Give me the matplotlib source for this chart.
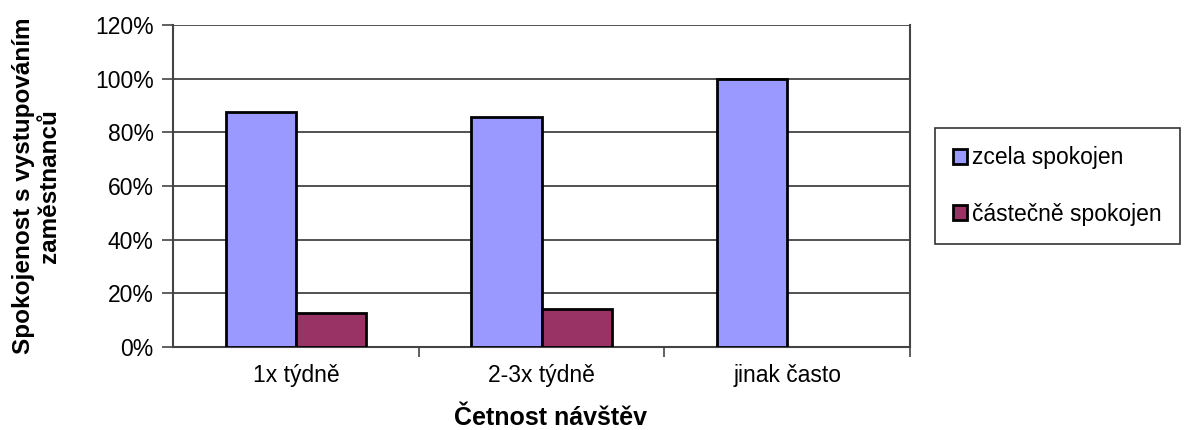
import numpy as np
import matplotlib.pyplot as plt
from matplotlib.ticker import FuncFormatter

plt.rcParams['font.family'] = ['Liberation Sans', 'DejaVu Sans']

kategorie = ['1x týdně', '2-3x týdně', 'jinak často']
zcela = [87.5, 85.7, 100.0]
castecne = [12.5, 14.3, 0.0]
serie = ['zcela spokojen', 'částečně spokojen']

fig = plt.figure(figsize=(11.84, 4.30), dpi=100)
ax = fig.add_axes([0.1461, 0.193, 0.6225, 0.7488])

x = np.arange(len(kategorie))
w = 0.285
ax.bar(x - w/2, zcela, w, color='#9999FF', edgecolor='black', linewidth=2, label=serie[0], zorder=3)
lw2 = [2 if v > 0 else 0 for v in castecne]
ax.bar(x + w/2, castecne, w, color='#993366', edgecolor='black', linewidth=lw2, label=serie[1], zorder=3)

ax.set_xlim(-0.5, 2.5)
ax.set_ylim(0, 120)
ax.set_yticks(range(0, 121, 20))
ax.yaxis.set_major_formatter(FuncFormatter(lambda v, p: f'{v:.0f}%'))
ax.grid(axis='y', color='#333333', linewidth=1.2, zorder=0)

ax.set_xticks(x)
ax.set_xticklabels(kategorie, fontsize=16.5)
ax.set_xticks([0.5, 1.5, 2.5], minor=True)
ax.tick_params(axis='x', which='major', length=0, pad=12)
ax.tick_params(axis='x', which='minor', length=7, width=1.2, color='#444444')
ax.tick_params(axis='y', length=8, width=1.2, color='#444444', labelsize=16.5, pad=6)

ax.spines['top'].set_visible(False)
for s in ['left', 'right', 'bottom']:
    ax.spines[s].set_color('#444444')
    ax.spines[s].set_linewidth(1.5)

fig.text(550/1184, 1 - 418/430, 'Četnost návštěv', fontsize=18, fontweight='bold',
         ha='center', va='center')
ax.set_ylabel('Spokojenost s vystupováním\nzaměstnanců', fontsize=17.5, fontweight='bold', labelpad=24)

leg = fig.legend(loc='upper left', bbox_to_anchor=(935/1184, 1 - 128/430), fontsize=16.5,
                 frameon=True, fancybox=False, edgecolor='black', handlelength=0.6, handleheight=0.6,
                 handletextpad=0.2, labelspacing=1.45, borderpad=0.8, borderaxespad=0)
leg.get_frame().set_linewidth(1.2)

fig.savefig('out.png', dpi=100)
